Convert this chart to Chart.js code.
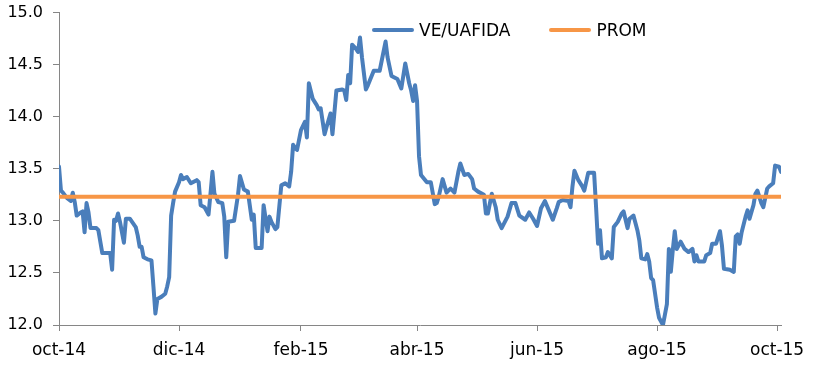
<!DOCTYPE html>
<html>
<head>
<meta charset="utf-8">
<script src="https://cdn.jsdelivr.net/npm/chart.js@4.4.1/dist/chart.umd.min.js"></script>
<style>
  html, body { margin: 0; padding: 0; background: #fff; }
  #wrap { position: relative; width: 817px; height: 386px; }
  #legend { position: absolute; left: 372px; top: 20px; display: flex; align-items: center;
            font-family: "DejaVu Sans", Verdana, sans-serif; font-size: 17px; color: #000; }
  .item { display: flex; align-items: center; margin-right: 39px; white-space: nowrap; }
  .sw { width: 42px; height: 4px; border-radius: 2px; margin-right: 5px; }
</style>
</head>
<body>
<div id="wrap">
  <canvas id="c" width="817" height="386"></canvas>
  <div id="legend"></div>
</div>
<script>
// Day offsets from 1-Oct-2014
const days = [0,1,2,4,6,7,8,9,11,12,13,14,15,16,19,20,22,24,26,27,28,29,30,31,33,34,36,39,40,41,42,43,45,47,48,49,50,52,54,55,56,57,58,59,61,62,63,
  65,67,70,71,72,74,76,77,78,79,81,83,84,85,86,89,91,92,94,96,98,99,100,103,104,106,107,108,110,111,113,115,117,118,119,120,121,
  123,125,126,127,129,131,132,133,135,136,138,139,141,144,145,146,147,148,149,151,152,153,154,156,157,160,163,166,167,169,172,174,176,178,179,180,181,182,183,
  184,187,189,191,192,193,195,197,199,201,203,204,206,208,210,211,213,216,217,218,220,222,223,225,228,230,232,234,237,239,241,243,245,247,249,251,253,254,256,259,260,261,262,264,266,267,269,272,273,274,275,276,278,279,281,282,284,286,287,289,290,292,294,295,296,298,299,300,301,302,303,304,305,307,
  309,310,311,312,313,314,316,318,320,322,323,324,325,328,329,331,332,334,336,337,338,341,343,344,345,346,347,349,350,351,353,354,355,357,358,360,361,363,364,366,367];
const veUafida = [13.52,13.29,13.27,13.22,13.19,13.27,13.18,13.05,13.08,13.09,12.89,13.17,13.08,12.93,12.93,12.91,12.69,12.69,12.69,12.53,13.01,13.00,13.07,12.99,12.79,13.02,13.02,12.94,12.86,12.75,12.75,12.65,12.63,12.62,12.37,12.11,12.25,12.27,12.30,12.37,12.46,13.05,13.17,13.28,13.37,13.44,13.40,
  13.42,13.36,13.39,13.37,13.15,13.13,13.06,13.26,13.47,13.26,13.18,13.17,13.04,12.65,12.99,13.00,13.25,13.43,13.30,13.28,13.01,13.06,12.74,12.74,13.15,12.90,13.04,12.99,12.92,12.94,13.34,13.36,13.33,13.47,13.73,13.70,13.68,
  13.87,13.95,13.80,14.32,14.17,14.11,14.07,14.08,13.83,13.90,14.03,13.83,14.25,14.26,14.25,14.16,14.40,14.32,14.69,14.65,14.62,14.76,14.57,14.26,14.30,14.44,14.44,14.72,14.57,14.39,14.36,14.27,14.51,14.32,14.25,14.15,14.30,14.15,13.62,
  13.44,13.37,13.37,13.16,13.17,13.23,13.40,13.27,13.31,13.27,13.47,13.55,13.44,13.45,13.40,13.31,13.28,13.25,13.07,13.07,13.26,13.13,13.01,12.93,13.04,13.17,13.17,13.05,13.01,13.08,13.02,12.95,13.12,13.19,13.10,13.01,13.12,13.18,13.20,13.19,13.13,13.33,13.48,13.39,13.33,13.29,13.46,13.46,13.13,12.78,12.91,12.64,12.65,12.70,12.64,12.94,12.99,13.07,13.09,12.93,13.02,13.05,12.91,12.81,12.64,12.63,12.68,12.61,12.45,12.43,12.30,12.17,12.07,12.00,
  12.20,12.73,12.51,12.72,12.90,12.73,12.80,12.73,12.70,12.73,12.61,12.67,12.61,12.61,12.67,12.69,12.78,12.78,12.90,12.76,12.54,12.53,12.51,12.85,12.87,12.78,12.89,13.04,13.10,13.02,13.15,13.26,13.29,13.17,13.13,13.31,13.33,13.36,13.53,13.52,13.47];
const promValue = 13.23;
const tickDays = [0, 61, 123, 182, 243, 304, 365];
const tickLabels = ['oct-14','dic-14','feb-15','abr-15','jun-15','ago-15','oct-15'];
const xMin = 0, xMax = 367;

const BLUE = '#4a7ebb', ORANGE = '#f79646', AXIS = '#868686';
const FONT = '"DejaVu Sans", Verdana, sans-serif';

const chart = new Chart(document.getElementById('c'), {
  type: 'line',
  data: {
    datasets: [
      { label: 'VE/UAFIDA', data: days.map((d, i) => ({ x: d, y: veUafida[i] })),
        borderColor: BLUE, backgroundColor: BLUE, borderWidth: 4, pointRadius: 0, tension: 0,
        borderJoinStyle: 'round', borderCapStyle: 'round', order: 1 },
      { label: 'PROM', data: [{ x: xMin, y: promValue }, { x: xMax, y: promValue }],
        borderColor: ORANGE, backgroundColor: ORANGE, borderWidth: 4, pointRadius: 0, tension: 0,
        order: 0 }
    ]
  },
  options: {
    responsive: false,
    animation: false,
    events: [],
    layout: { padding: { left: 0, right: 36, top: 12, bottom: 0 } },
    plugins: { legend: { display: false }, tooltip: { enabled: false } },
    scales: {
      x: {
        type: 'linear', min: xMin, max: xMax,
        afterBuildTicks: s => { s.ticks = tickDays.map(v => ({ value: v })); },
        afterFit: s => { s.height = 61; },
        ticks: { autoSkip: false, maxRotation: 0, padding: 9, color: '#000',
                 font: { family: FONT, size: 17 },
                 callback: v => { const i = tickDays.indexOf(v); return i >= 0 ? tickLabels[i] : ''; } },
        grid: { drawOnChartArea: false, drawTicks: true, tickLength: 6, color: AXIS, lineWidth: 1 },
        border: { display: true, color: AXIS, width: 1 }
      },
      y: {
        min: 12, max: 15,
        afterFit: s => { s.width = 59; },
        ticks: { stepSize: 0.5, padding: 10, color: '#000', font: { family: FONT, size: 16, lineHeight: 0.3 },
                 callback: v => Number(v).toFixed(1) },
        grid: { drawOnChartArea: false, drawTicks: true, tickLength: 6, color: AXIS, lineWidth: 1 },
        border: { display: true, color: AXIS, width: 1 }
      }
    }
  }
});

// HTML legend built from the chart's datasets
const lg = document.getElementById('legend');
chart.data.datasets.forEach(ds => {
  const it = document.createElement('div'); it.className = 'item';
  const sw = document.createElement('div'); sw.className = 'sw'; sw.style.background = ds.borderColor;
  const tx = document.createElement('span'); tx.textContent = ds.label;
  it.appendChild(sw); it.appendChild(tx); lg.appendChild(it);
});
</script>
</body>
</html>
